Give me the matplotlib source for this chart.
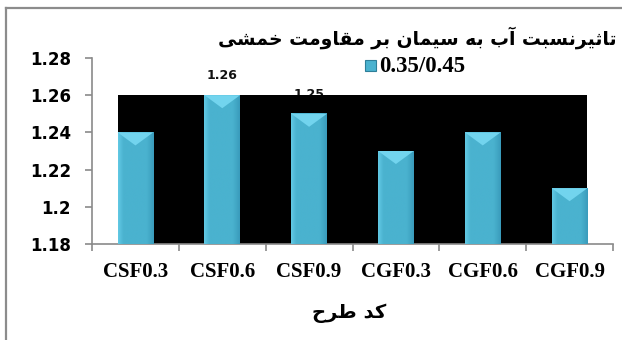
import numpy as np
import matplotlib
matplotlib.use("Agg")
import matplotlib.pyplot as plt
from matplotlib.patches import Rectangle
from matplotlib.lines import Line2D


categories = ["CSF0.3", "CSF0.6", "CSF0.9", "CGF0.3", "CGF0.6", "CGF0.9"]
values = [1.24, 1.26, 1.25, 1.23, 1.24, 1.21]
series_name = "0.35/0.45"
y_ticks = [1.18, 1.2, 1.22, 1.24, 1.26, 1.28]
y_tick_labels = ["1.18", "1.2", "1.22", "1.24", "1.26", "1.28"]
title_text = "تاثیرنسبت آب به سیمان بر مقاومت خمشی"
xlabel_text = "کد طرح"

# isolated, final, initial, medial presentation forms
FORMS = {
    "\u0627": ("\uFE8D", "\uFE8E"),
    "\u0622": ("\uFE81", "\uFE82"),
    "\u0628": ("\uFE8F", "\uFE90", "\uFE91", "\uFE92"),
    "\u062A": ("\uFE95", "\uFE96", "\uFE97", "\uFE98"),
    "\u062B": ("\uFE99", "\uFE9A", "\uFE9B", "\uFE9C"),
    "\u062D": ("\uFEA1", "\uFEA2", "\uFEA3", "\uFEA4"),
    "\u062E": ("\uFEA5", "\uFEA6", "\uFEA7", "\uFEA8"),
    "\u062F": ("\uFEA9", "\uFEAA"),
    "\u0631": ("\uFEAD", "\uFEAE"),
    "\u0633": ("\uFEB1", "\uFEB2", "\uFEB3", "\uFEB4"),
    "\u0634": ("\uFEB5", "\uFEB6", "\uFEB7", "\uFEB8"),
    "\u0637": ("\uFEC1", "\uFEC2", "\uFEC3", "\uFEC4"),
    "\u0642": ("\uFED5", "\uFED6", "\uFED7", "\uFED8"),
    "\u0645": ("\uFEE1", "\uFEE2", "\uFEE3", "\uFEE4"),
    "\u0646": ("\uFEE5", "\uFEE6", "\uFEE7", "\uFEE8"),
    "\u0647": ("\uFEE9", "\uFEEA", "\uFEEB", "\uFEEC"),
    "\u0648": ("\uFEED", "\uFEEE"),
    "\u06CC": ("\uFBFC", "\uFBFD", "\uFBFE", "\uFBFF"),
    "\u06A9": ("\uFB8E", "\uFB8F", "\uFB90", "\uFB91"),
}


def shape_rtl(text):
    """Join Persian letters into contextual forms and reverse for display."""
    out = []
    for i, ch in enumerate(text):
        forms = FORMS.get(ch)
        if forms is None:
            out.append(ch)
            continue
        prev = text[i - 1] if i > 0 else ""
        nxt = text[i + 1] if i + 1 < len(text) else ""
        joins_prev = prev in FORMS and len(FORMS[prev]) == 4
        joins_next = len(forms) == 4 and nxt in FORMS
        if joins_prev and joins_next:
            out.append(forms[3])
        elif joins_prev:
            out.append(forms[1])
        elif joins_next:
            out.append(forms[2])
        else:
            out.append(forms[0])
    return "".join(reversed(out))


bar_w = 0.41
base = 1.18
bar_color = "#4AB2CF"
cap_color = "#72D4EE"

fig = plt.figure(figsize=(6.22, 3.40), dpi=100)
ax = fig.add_axes([92 / 622, 1 - 244 / 340, 521 / 622, 186 / 340])

x = np.arange(len(categories))

# value labels sit under the black back wall, only tall ones peek out
for xi, v in zip(x, values):
    ax.annotate(f"{v:.2f}", (xi, v), xytext=(0, 14), textcoords="offset points",
                ha="center", va="center", fontsize=9, fontweight="bold",
                family="DejaVu Sans", color="#111111", zorder=1)

ax.add_patch(Rectangle((x[0] - bar_w / 2, base), x[-1] - x[0] + bar_w,
                       max(values) - base, facecolor="black", edgecolor="none",
                       zorder=2))

# horizontal shading across each bar
shade = np.linspace(0, 1, 64)
shade_rgb = np.zeros((1, 64, 3))
lo = np.array([0x62, 0xC9, 0xE4]) / 255
mid = np.array([0x4A, 0xB2, 0xCF]) / 255
hi = np.array([0x3A, 0x9C, 0xBC]) / 255
for k, s in enumerate(shade):
    if s < 0.15:
        c = lo + (mid - lo) * s / 0.15
    elif s < 0.8:
        c = mid
    else:
        c = mid + (hi - mid) * (s - 0.8) / 0.2
    shade_rgb[0, k] = c

bars = ax.bar(x, np.array(values) - base, bottom=base, width=bar_w,
              color=bar_color, edgecolor="none", zorder=3)
for b, xi, v in zip(bars, x, values):
    ax.imshow(shade_rgb, extent=(xi - bar_w / 2, xi + bar_w / 2, base, v),
              aspect="auto", zorder=3.5, interpolation="bilinear")
    depth = 0.007
    ax.fill([xi - bar_w / 2, xi + bar_w / 2, xi], [v, v, v - depth],
            color=cap_color, zorder=4, linewidth=0)

ax.set_xlim(-0.5, len(categories) - 0.5)
ax.set_ylim(1.18, 1.28)
ax.set_yticks(y_ticks)
ax.set_yticklabels(y_tick_labels, fontsize=12, fontweight="bold", family="DejaVu Sans")
ax.set_xticks(x)
ax.set_xticklabels(categories, fontsize=15, fontweight="bold",
                   family="Liberation Serif")
ax.set_xticks(np.arange(-0.5, len(categories)), minor=True)
ax.tick_params(axis="x", which="major", length=0, pad=13)
ax.tick_params(axis="x", which="minor", length=5, color="#8a8a8a", width=1.2)
ax.tick_params(axis="y", length=5, color="#8a8a8a", width=1.2, pad=10)

for side in ("top", "right"):
    ax.spines[side].set_visible(False)
for side in ("left", "bottom"):
    ax.spines[side].set_color("#8a8a8a")
    ax.spines[side].set_linewidth(1.2)

fig.text(617 / 622, 1 - 38 / 340, shape_rtl(title_text), ha="right", va="center",
         fontsize=13.5, fontweight="bold", family="DejaVu Sans")
fig.text(349 / 622, 1 - 313 / 340, shape_rtl(xlabel_text), ha="center", va="center",
         fontsize=14, fontweight="bold", family="DejaVu Sans")

# legend entry
fig.patches.append(Rectangle((365 / 622, 1 - 71 / 340), 11 / 622, 11 / 340,
                             transform=fig.transFigure, facecolor=bar_color,
                             edgecolor="#2E7F99", linewidth=0.8))
fig.text(379 / 622, 1 - 66 / 340, series_name, ha="left", va="center",
         fontsize=16.5, fontweight="bold", family="Liberation Serif")

# chart frame
fig.add_artist(Line2D([6 / 622, 1.0], [1 - 8 / 340, 1 - 8 / 340],
                      transform=fig.transFigure, color="#8c8c8c", linewidth=1.6))
fig.add_artist(Line2D([6 / 622, 6 / 622], [1 - 8 / 340, 0],
                      transform=fig.transFigure, color="#8c8c8c", linewidth=1.6))

fig.savefig("out.png", dpi=100)
